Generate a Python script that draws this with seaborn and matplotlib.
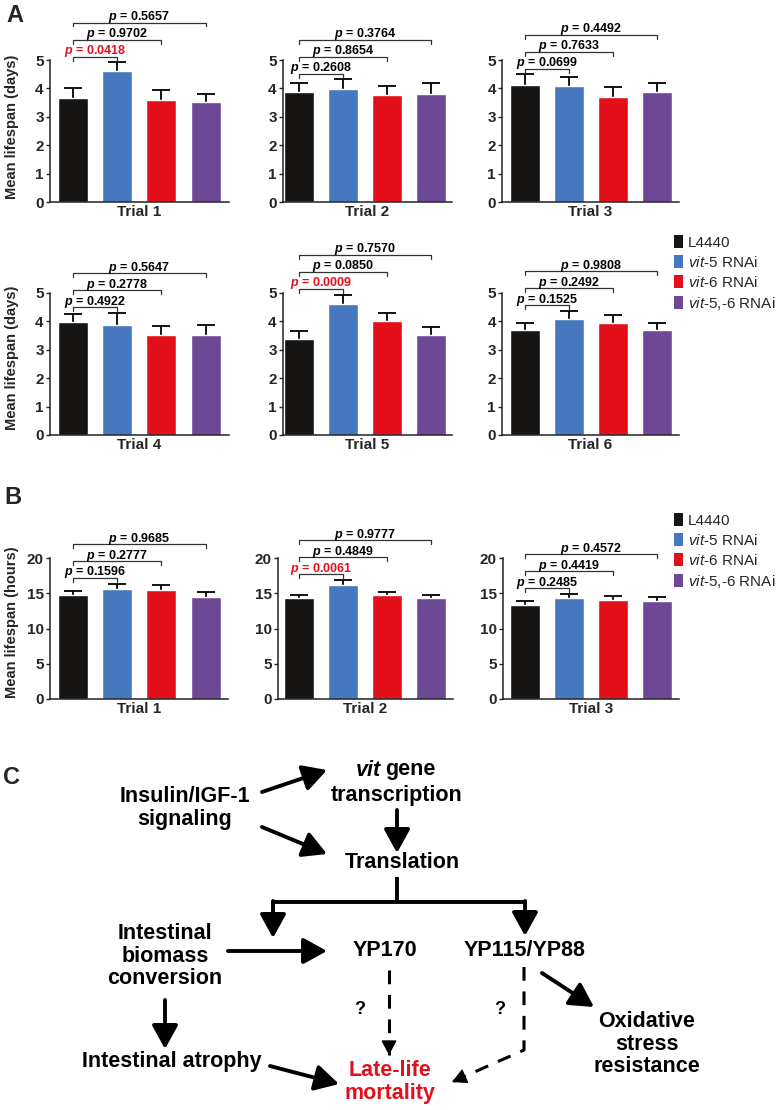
import matplotlib
matplotlib.use("Agg")
import matplotlib.pyplot as plt
from matplotlib.patches import Patch
import numpy as np
import pandas as pd
import seaborn as sns

# ---- data -------------------------------------------------------------
groups = ["L4440", "vit-5 RNAi", "vit-6 RNAi", "vit-5,-6 RNAi"]
legend_labels = [
    "L4440",
    "$\\mathit{vit\u20105}$ RNAi",
    "$\\mathit{vit\u20106}$ RNAi",
    "$\\mathit{vit\u20105{,}\u20106}$ RNAi",
]
colors = ["#161513", "#4777be", "#e3101c", "#6d4895"]

days_trials = ["Trial 1", "Trial 2", "Trial 3", "Trial 4", "Trial 5", "Trial 6"]
days_mean = [
    [3.67, 4.62, 3.59, 3.51],
    [3.87, 3.99, 3.75, 3.82],
    [4.12, 4.07, 3.68, 3.88],
    [3.97, 3.89, 3.53, 3.53],
    [3.39, 4.61, 4.01, 3.52],
    [3.70, 4.07, 3.95, 3.70],
]
days_sem = [
    [0.35, 0.30, 0.37, 0.28],
    [0.31, 0.33, 0.34, 0.38],
    [0.37, 0.33, 0.36, 0.30],
    [0.29, 0.40, 0.31, 0.35],
    [0.28, 0.33, 0.28, 0.28],
    [0.26, 0.30, 0.29, 0.26],
]
days_p = [
    ["0.0418", "0.9702", "0.5657"],
    ["0.2608", "0.8654", "0.3764"],
    ["0.0699", "0.7633", "0.4492"],
    ["0.4922", "0.2778", "0.5647"],
    ["0.0009", "0.0850", "0.7570"],
    ["0.1525", "0.2492", "0.9808"],
]

hours_trials = ["Trial 1", "Trial 2", "Trial 3"]
hours_mean = [
    [14.76, 15.61, 15.52, 14.48],
    [14.29, 16.18, 14.72, 14.29],
    [13.40, 14.34, 14.10, 13.92],
]
hours_sem = [
    [0.57, 0.75, 0.61, 0.66],
    [0.52, 0.71, 0.52, 0.52],
    [0.52, 0.57, 0.57, 0.61],
]
hours_p = [
    ["0.1596", "0.2777", "0.9685"],
    ["0.0061", "0.4849", "0.9777"],
    ["0.2485", "0.4419", "0.4572"],
]

# ---- style ------------------------------------------------------------
sns.set_theme(style="ticks")
plt.rcParams["font.family"] = ["Liberation Sans", "DejaVu Sans"]
plt.rcParams["mathtext.fontset"] = "custom"
plt.rcParams["mathtext.rm"] = "Liberation Sans"
plt.rcParams["mathtext.it"] = "Liberation Sans:italic"
if "mathtext.bfit" in plt.rcParams:
    plt.rcParams["mathtext.bfit"] = "Liberation Sans:italic:bold"
P_FMT = r"$\bfit{p}$ = " if "mathtext.bfit" in plt.rcParams else r"$\mathbf{p}$ = "

W, H = 780, 1110
BAR_STEP = 44.2  # px between bar centres

fig = plt.figure(figsize=(W / 100, H / 100), dpi=100)


def add_bar_axes(x0, x1, top, bottom, first_center):
    ax = fig.add_axes([x0 / W, 1 - bottom / H, (x1 - x0) / W, (bottom - top) / H])
    ax.set_xlim(-(first_center - x0) / BAR_STEP, (x1 - first_center) / BAR_STEP)
    return ax


def draw_trial(ax, name, means, sems, pvals, ymax, ystep):
    df = pd.DataFrame({"group": groups, "mean": means})
    xlim = ax.get_xlim()
    sns.barplot(data=df, x="group", y="mean", hue="group", palette=colors,
                width=0.68, saturation=1, legend=False, ax=ax, zorder=2)
    # symmetric bars drawn behind, so only the upper half shows
    ax.errorbar(range(4), means, yerr=sems, fmt="none", ecolor="black",
                elinewidth=1.3, capsize=6.5, capthick=1.3, zorder=1)
    ax.set_xlim(xlim)
    ax.set_ylim(0, ymax)
    ax.set_yticks(np.arange(0, ymax + 0.01, ystep))
    ax.set_xticks([])
    ax.set_ylabel("")
    ax.set_xlabel(name, fontsize=11, fontweight="bold", labelpad=2)
    ax.tick_params(axis="y", length=3, width=1, pad=1.5, labelsize=11)
    for lbl in ax.get_yticklabels():
        lbl.set_fontweight("bold")
    sns.despine(ax=ax)
    for s in ("left", "bottom"):
        ax.spines[s].set_linewidth(1.1)
        ax.spines[s].set_color("#222222")
        ax.spines[s].set_zorder(3)

    # comparison brackets against L4440
    base = max(means[0] + sems[0], means[1] + sems[1]) + 0.04 * ymax
    tick = 0.028 * ymax
    for k, p in enumerate(pvals):
        y = base + k * 0.12 * ymax
        x2 = k + 1
        ax.plot([0, 0, x2, x2], [y - tick, y, y, y - tick], color="#333333",
                lw=0.9, clip_on=False)
        col = "#e3101c" if float(p) < 0.05 else "black"
        ax.text(x2 / 2, y + 0.018 * ymax, P_FMT + p, ha="center", va="baseline",
                fontsize=9, fontweight="bold", color=col, clip_on=False)


# panel A
cols_a = [(50, 229, 73.0), (283, 452, 298.8), (502, 679, 524.7)]
rows_a = [(60, 202), (293, 435)]
for i in range(6):
    x0, x1, c0 = cols_a[i % 3]
    top, bottom = rows_a[i // 3]
    ax = add_bar_axes(x0, x1, top, bottom, c0)
    draw_trial(ax, days_trials[i], days_mean[i], days_sem[i], days_p[i], 5, 1)

# panel B
cols_b = [(50, 228, 73.0), (278, 453, 298.8), (503, 679, 524.7)]
for i in range(3):
    x0, x1, c0 = cols_b[i]
    ax = add_bar_axes(x0, x1, 558, 699, c0)
    draw_trial(ax, hours_trials[i], hours_mean[i], hours_sem[i], hours_p[i], 20, 5)

handles = [Patch(facecolor=c, edgecolor="none") for c in colors]
for top in (235, 513):
    fig.legend(handles, legend_labels, loc="upper left",
               bbox_to_anchor=(674 / W, 1 - top / H), frameon=False,
               fontsize=11, handlelength=0.6, handleheight=0.95,
               handletextpad=0.3, labelspacing=0.32, borderpad=0,
               borderaxespad=0)

# ---- overlay for labels and panel C diagram (pixel coordinates) -------
ov = fig.add_axes([0, 0, 1, 1])
ov.set_xlim(0, W)
ov.set_ylim(H, 0)
ov.axis("off")

for letter, (x, y) in zip("ABC", [(15, 15), (13, 498), (12, 777)]):
    ov.text(x, y, letter, ha="center", va="center", fontsize=17, fontweight="bold")
for y, txt in [(127, "Mean lifespan (days)"), (358, "Mean lifespan (days)"),
               (622, "Mean lifespan (hours)")]:
    ov.text(12, y, txt, rotation=90, ha="center", va="center", fontsize=10.5,
            fontweight="bold")


def label(x, y, txt, color="black", size=15.5, style="normal", ha="center"):
    ov.text(x, y, txt, ha=ha, va="center", fontsize=size, fontweight="bold",
            color=color, style=style, linespacing=1.1)


def arrow(p0, p1):
    ov.annotate("", xy=p1, xytext=p0,
                arrowprops=dict(arrowstyle="-|>,head_length=0.6,head_width=0.33",
                                lw=2.8, color="black", mutation_scale=24,
                                shrinkA=0, shrinkB=0))


def dashed_arrow(points):
    xs, ys = zip(*points)
    ov.plot(xs, ys, color="black", lw=2.2, dashes=(4.5, 3.5))
    (xa, ya), (xb, yb) = points[-2], points[-1]
    d = np.hypot(xb - xa, yb - ya)
    ov.annotate("", xy=(xb, yb), xytext=(xb - (xb - xa) / d * 2, yb - (yb - ya) / d * 2),
                arrowprops=dict(arrowstyle="-|>,head_length=0.6,head_width=0.32",
                                lw=1, color="black", mutation_scale=15,
                                shrinkA=0, shrinkB=0))


label(185, 808, "Insulin/IGF-1\nsignaling")
label(381, 770, "vit", style="italic", ha="right")
label(385, 770, "gene", ha="left")
label(397, 796, "transcription")
label(402, 862, "Translation")
label(165, 956, "Intestinal\nbiomass\nconversion")
label(385, 951, "YP170")
label(525, 950, "YP115/YP88")
label(360, 1010, "?", size=13)
label(500, 1010, "?", size=13)
label(172, 1061, "Intestinal atrophy")
label(390, 1082, "Late-life\nmortality", color="#e3101c")
label(647, 1044, "Oxidative\nstress\nresistance")

arrow((262, 792), (327, 770))
arrow((262, 827), (327, 854))
arrow((397, 810), (397, 853))
ov.plot([397, 397], [877, 902], color="black", lw=2.8, solid_capstyle="butt")
ov.plot([273, 525], [902, 902], color="black", lw=2.8, solid_capstyle="projecting")
arrow((273, 901), (273, 938))
arrow((525, 901), (525, 936))
arrow((228, 951), (327, 951))
arrow((542, 973), (594, 1007))
arrow((165, 1000), (165, 1049))
arrow((270, 1066), (339, 1084))
dashed_arrow([(389, 970), (389, 1055)])
dashed_arrow([(524, 967), (524, 1050), (452, 1082)])

fig.savefig("out.png", dpi=100)
